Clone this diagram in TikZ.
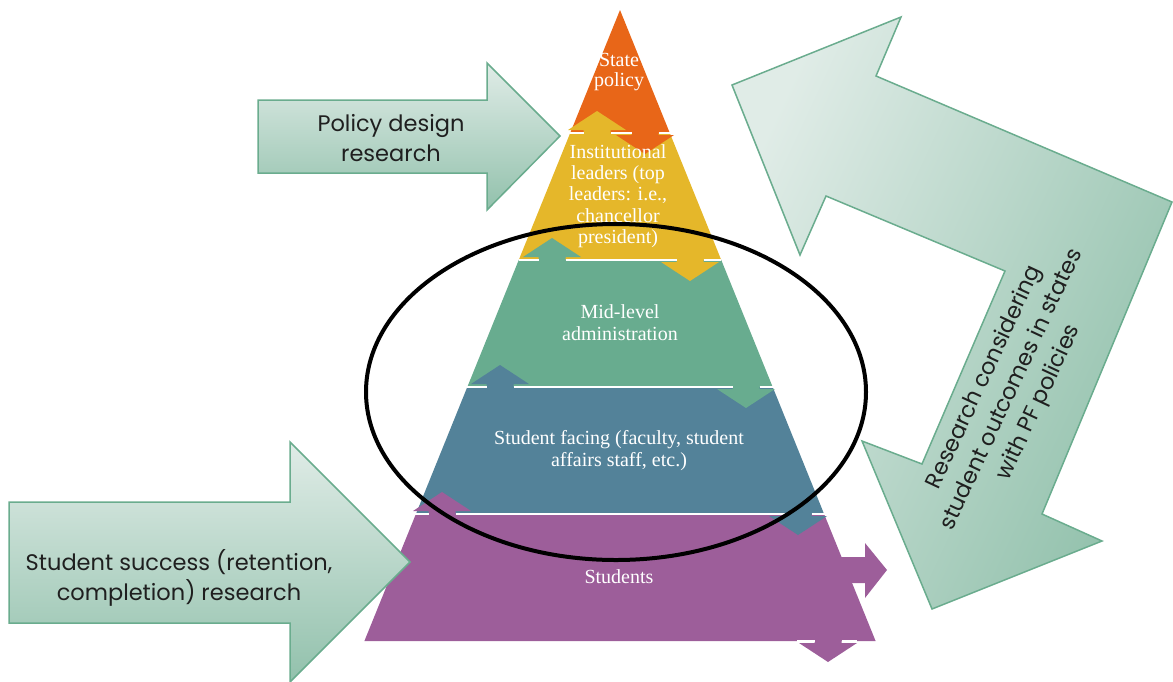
\documentclass[tikz,border=0pt]{standalone}
\usepackage{fontspec}
\setmainfont{Liberation Serif}
\newfontfamily\gothic{Poppins}
\definecolor{stateC}{RGB}{232,102,24}
\definecolor{instC}{RGB}{229,183,42}
\definecolor{midC}{RGB}{104,172,143}
\definecolor{faceC}{RGB}{83,130,153}
\definecolor{studC}{RGB}{157,94,154}
\definecolor{arrLight}{RGB}{224,236,231}
\definecolor{arrDark}{RGB}{146,193,172}
\definecolor{arrLine}{RGB}{106,172,142}
\begin{document}
\begin{tikzpicture}[x=1pt,y=-1pt,
  tier/.style={font=\fontsize{20}{22}\selectfont, text=white, align=center, inner sep=0pt},
  research/.style={font=\gothic\fontsize{22.5}{30}\selectfont, text=black!88, align=center, inner sep=0pt},
  callout/.style={draw=arrLine, line width=1.5pt, top color=arrLight, bottom color=arrDark},
  seam/.style={white, line width=2pt}]
\useasboundingbox (0,0) rectangle (1173,681);
\clip (0,0) rectangle (1173,681);

% bent double arrow on the right
\path[callout, shading angle=65]
  (732,85) -- (901,17) -- (876,76) -- (1172,202) -- (1042,514) -- (1102,541)
  -- (932,609) -- (862,441) -- (922,464) -- (1005,271) -- (826,196) -- (800,255) -- cycle;

% pyramid tiers
\fill[stateC] (620,10) -- (669.8,133) -- (570.2,133) -- cycle;
\fill[instC] (570.2,133) -- (669.8,133) -- (721.25,260) -- (518.75,260) -- cycle;
\fill[midC] (518.75,260) -- (721.25,260) -- (772.7,387) -- (467.3,387) -- cycle;
\fill[faceC] (467.3,387) -- (772.7,387) -- (824.1,514) -- (415.9,514) -- cycle;
\fill[studC] (415.9,514) -- (824.1,514) -- (875.6,641) -- (364.4,641) -- cycle;

% upward arrow heads from each tier into the one above
\foreach \x/\y/\c in {597/133/instC, 552/260/midC, 500/387/faceC, 442/514/studC}
  \fill[\c] (\x-29,\y-3) -- (\x,\y-22) -- (\x+29,\y-3) -- (\x+13.5,\y-3)
    -- (\x+13.5,\y+1) -- (\x-13.5,\y+1) -- (\x-13.5,\y-3) -- cycle;

% downward arrow heads from each tier into the one below
\foreach \x/\y/\c in {645/133/stateC, 690/260/instC, 746/387/midC, 798/514/faceC, 828/641/studC}
  \fill[\c] (\x-13.5,\y-2) -- (\x+13.5,\y-2) -- (\x+13.5,\y+2) -- (\x+29,\y+2)
    -- (\x,\y+21) -- (\x-29,\y+2) -- (\x-13.5,\y+2) -- cycle;

% outward arrow from the students tier
\fill[studC] (840,557) -- (865,557) -- (865,543) -- (887,570) -- (865,598) -- (865,583) -- (840,583) -- cycle;

% white seams between tiers, broken where the arrows pass
\draw[seam] (570.2,133) -- (583.5,133) (610.5,133) -- (631.5,133) (658.5,133) -- (674,133);
\draw[seam] (518.75,260) -- (538.5,260) (565.5,260) -- (676.5,260) (703.5,260) -- (721.25,260);
\draw[seam] (467.3,387) -- (486.5,387) (513.5,387) -- (732.5,387) (759.5,387) -- (774,387);
\draw[seam] (413,514) -- (428.5,514) (455.5,514) -- (784.5,514) (811.5,514) -- (827,514);
\draw[seam] (797,641) -- (814.5,641) (841.5,641) -- (857,641);

% tier labels
\node[tier, font=\fontsize{20}{20.5}\selectfont] (state) at (619,72) {State\\policy};
\node[tier, font=\fontsize{20}{21.3}\selectfont] (inst) at (618,196) {Institutional\\leaders (top\\leaders: i.e.,\\chancellor\\president)};
\node[tier] (mid) at (620,323) {Mid-level\\administration};
\node[tier] (facing) at (619,451) {Student facing (faculty, student\\affairs staff, etc.)};
\node[tier] (students) at (619,577) {Students};

% research arrows on the left
\path[callout] (258,100) -- (487,100) -- (487,63) -- (560,136) -- (487,210) -- (487,173) -- (258,173) -- cycle;
\path[callout] (9,502) -- (290,502) -- (290,442) -- (410,562) -- (290,682) -- (290,623) -- (9,623) -- cycle;

\node[research] (policy) at (391,138) {Policy design\\research};
\node[research] (success) at (179,578) {Student success (retention,\\completion) research};
\node[research, rotate=65] (outcomes) at (1012,390) {Research considering\\student outcomes in states\\with PF policies};

% focus ellipse around the middle tiers
\draw[line width=4pt] (616,392) ellipse [x radius=250, y radius=168];
\end{tikzpicture}
\end{document}
